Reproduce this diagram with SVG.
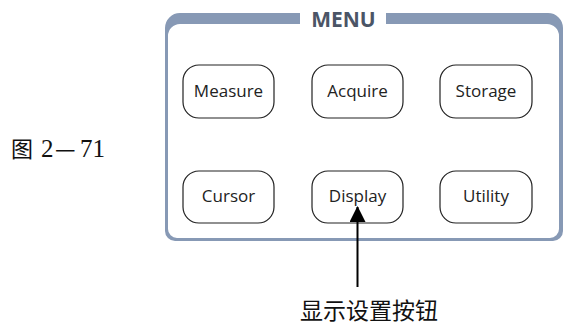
<svg xmlns="http://www.w3.org/2000/svg" width="563" height="325" viewBox="0 0 563 325">
<style>
.btn{fill:#fff;stroke:#222;stroke-width:1.2}
.bt{font-family:"Open Sans","Liberation Sans",sans-serif;font-size:17px;fill:#222;text-anchor:middle}
.menu{font-family:"Open Sans","Liberation Sans",sans-serif;font-size:21px;font-weight:bold;fill:#4b5566;text-anchor:middle}
.ser{font-family:"Liberation Serif",serif;font-size:25px;fill:#111}
.cjk{font-family:"Noto Sans CJK SC",sans-serif;fill:#111}
</style>
<defs>
<marker id="ah" markerWidth="16" markerHeight="16" viewBox="0 0 16 16" refX="15" refY="8" orient="auto" markerUnits="userSpaceOnUse">
<path d="M0,0 L16,8 L0,16 Z" fill="#000"/>
</marker>
</defs>
<rect width="563" height="325" fill="#fff"/>
<g id="panel">
<path fill="#8799b5" fill-rule="evenodd" d="M165,28 A15,15 0 0 1 180,13 L548,13 A15,15 0 0 1 563,28 L563,231 A10,10 0 0 1 553,241 L175,241 A10,10 0 0 1 165,231 Z M168,36 A12,12 0 0 1 180,24 L547,24 A12,12 0 0 1 559,36 L559,229 A9,9 0 0 1 550,238 L177,238 A9,9 0 0 1 168,229 Z"/>
<rect x="300" y="11" width="86" height="15" fill="#fff"/>
<text class="menu" x="343.5" y="27">MENU</text>
</g>
<g id="measure"><rect class="btn" x="183" y="65" width="91" height="53" rx="16" ry="16"/><text class="bt" x="228.5" y="97">Measure</text></g>
<g id="acquire"><rect class="btn" x="312" y="65" width="91" height="53" rx="16" ry="16"/><text class="bt" x="357.5" y="97">Acquire</text></g>
<g id="storage"><rect class="btn" x="440" y="65" width="92" height="53" rx="16" ry="16"/><text class="bt" x="486" y="97">Storage</text></g>
<g id="cursor"><rect class="btn" x="183" y="171" width="91" height="52" rx="16" ry="16"/><text class="bt" x="228.5" y="202">Cursor</text></g>
<g id="display"><rect class="btn" x="312" y="171" width="91" height="52" rx="16" ry="16"/><text class="bt" x="357.5" y="202">Display</text></g>
<g id="utility"><rect class="btn" x="440" y="171" width="92" height="52" rx="16" ry="16"/><text class="bt" x="486" y="202">Utility</text></g>
<g id="connectors">
<line x1="357.5" y1="287" x2="357.5" y2="207" stroke="#000" stroke-width="2" marker-end="url(#ah)"/>
</g>
<g id="fig-label"><text class="ser" x="11" y="157"><tspan class="cjk" font-size="22">图</tspan><tspan x="41">2</tspan><tspan class="cjk" x="55" font-size="23">—</tspan><tspan x="80">71</tspan></text></g>
<g id="caption"><text class="cjk" x="300" y="319" font-size="23">显示设置按钮</text></g>
</svg>
